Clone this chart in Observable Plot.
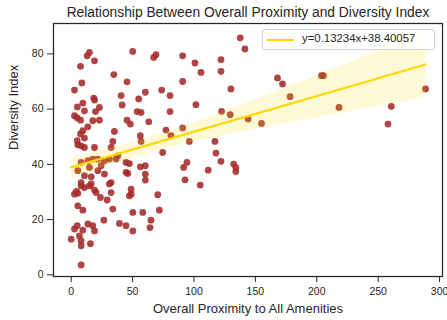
<!DOCTYPE html>
<html>
<head>
<meta charset="utf-8">
<script src="https://cdn.jsdelivr.net/npm/d3@7"></script>
<script src="https://cdn.jsdelivr.net/npm/@observablehq/plot@0.6"></script>
<style>
  html, body { margin: 0; padding: 0; background: #fff; }
  #wrap { position: relative; width: 447px; height: 320px; font-family: "Liberation Sans", Arial, sans-serif; }
  #legend { position: absolute; left: 262px; top: 29px; width: 173px; height: 21px; box-sizing: border-box;
    border: 1px solid #d0d0d0; border-radius: 3px; background: rgba(255,255,255,0.85); }
  #legend .swatch { position: absolute; left: 4px; top: 9px; width: 27px; height: 2px; background: #FFD700; }
  #legend .lbl { position: absolute; left: 39px; top: 2px; font-size: 11.4px; color: #262626; white-space: nowrap; }
</style>
</head>
<body>
<div id="wrap"></div>
<script>
const proximity = [
  14.9, 13, 19, 50.1, 69.1, 67.2, 90.8, 7.6, 34.7, 45.5, 8.7, 2.7, 90.8, 73.7, 60.4, 40.7, 55, 80.5, 18.4, 19,
  9.5, 5, 41.5, 23, 10.8, 19.8, 53.7, 56.9, 80.5, 137.7, 141.5, 100.8, 105.7, 122, 122, 130.1, 168, 172.1, 101.6, 122.5,
  178.3, 203.8, 205.4, 218.1, 260.7, 288.6,
  2.7, 4.9, 7.6, 17.6, 23, 45.5, 48.2, 63.2, 13.6, 9.5, 7.6, 10.8, 77.2, 35.2, 81.3, 56.3, 33.9, 4.9, 5.4, 19,
  56.9, 32.5, 8.1, 10.8, 74.5, 129.5, 144.1, 155, 90.8, 96.2, 117.1, 117.9, 122, 94.3, 91.6, 111.6, 132.3, 134.1, 134.1, 92.7,
  105.1, 258,
  8.1, 13.6, 17.6, 21.7, 27.1, 31.1, 36.6, 38, 5.4, 14.9, 21.7, 44.7, 47.4, 56.3, 60.4, 60.4, 60.4, 44.7, 46.1, 10.8,
  16.3, 8.1, 16.3, 32.5, 31.1, 27.1, 24.4,
  4.3, 5.4, 2.7, 10.8, 19, 20.3, 32.5, 48.8, 48.8, 47.4, 70.5, 23.8, 29.3, 5.4, 9.5, 33.9, 50.2, 58.3, 71.8, 26.6,
  4.9, 2.7, 9.5, 13.6, 17.6, 19, 39.3, 44.7, 50.2, 65, 64.2, 0, 6.7, 8.1, 8.1, 15.7, 8.1, 8.1, 14.9
];
const diversity = [
  80.5, 79.3, 77.5, 80.9, 79.7, 78.7, 79.3, 75.5, 72.5, 69.9, 69.5, 66.9, 70, 66.9, 66.1, 64.9, 63.7, 64.9, 64, 63.3,
  62.2, 60.8, 61.5, 60.6, 59.4, 59.1, 59.1, 58.8, 59.1, 85.8, 81.8, 76.7, 73.3, 77.9, 73.7, 67.3, 71.3, 69.1, 61.6, 59.2,
  64.5, 72.1, 72.1, 60.6, 61, 67.3,
  57.6, 56.8, 56, 55.8, 56, 56, 54.6, 55.4, 53.6, 52.2, 51, 49.5, 52.4, 51.9, 50.4, 50.4, 48.3, 48.6, 47.1, 46.1,
  48.3, 46.1, 46.7, 46.1, 44.3, 58, 56.4, 54.8, 53.2, 48.3, 48.3, 44.1, 41.1, 40.7, 38.9, 37.9, 40.1, 38.9, 37.4, 34.4,
  32.5, 54.6,
  40.7, 41.3, 41.9, 41.9, 41.3, 41.9, 41.9, 43.1, 37.7, 38.9, 37.7, 40.7, 40.3, 39.1, 39.5, 36.5, 34.3, 37.1, 36.7, 35.9,
  35.5, 33.4, 32.9, 33.4, 32.9, 36.5, 39.5,
  30.2, 29.5, 29.2, 31.6, 30.7, 29.8, 29.8, 31, 29.2, 28.6, 29, 28, 27.1, 25, 23.4, 23.8, 22.6, 22.6, 23.4, 19.8,
  17.8, 16.6, 16.2, 18.4, 17.8, 15.9, 18.6, 17.8, 15.9, 19.8, 17.1, 12.9, 14.1, 12.3, 10.5, 11.3, 3.6, 32.2, 32.2
];
const xTicks = [0, 50, 100, 150, 200, 250, 300];
const yTicks = [0, 20, 40, 60, 80];
const slope = 0.13234;
const intercept = 38.40057;
const titleText = "Relationship Between Overall Proximity and Diversity Index";
const xLabel = "Overall Proximity to All Amenities";
const yLabel = "Diversity Index";

const data = proximity.map((x, i) => ({x, y: diversity[i]}));

const chart = Plot.plot({
  width: 447,
  height: 320,
  marginLeft: 53,
  marginRight: 5,
  marginTop: 23,
  marginBottom: 44,
  style: {fontFamily: '"Liberation Sans", Arial, sans-serif', fontSize: "10.5px", color: "#262626", background: "#fff"},
  x: {domain: [-14.4, 302.4], label: null},
  y: {domain: [-0.6, 91], label: null},
  marks: [
    Plot.dot(data, {x: "x", y: "y", r: 3.4, fill: "#a52a2a", fillOpacity: 0.88, stroke: null}),
    Plot.linearRegressionY(data, {x: "x", y: "y", stroke: "#FFD700", strokeWidth: 2.2, fill: "#FFD700", fillOpacity: 0.16}),
    Plot.frame({stroke: "#262626", strokeWidth: 1.25}),
    Plot.axisX({ticks: xTicks, tickSize: 6, tickPadding: 5, fontSize: 10.5, stroke: "#262626", label: null}),
    Plot.axisY({ticks: yTicks, tickSize: 6, tickPadding: 4, fontSize: 10.5, stroke: "#262626", label: null}),
    Plot.text([xLabel], {text: d => d, frameAnchor: "bottom", lineAnchor: "middle", dy: 32, fontSize: 13, fill: "#262626"}),
    Plot.text([yLabel], {text: d => d, frameAnchor: "left", lineAnchor: "middle", dx: -40, rotate: -90, fontSize: 13, fill: "#262626"}),
    Plot.text([titleText], {text: d => d, frameAnchor: "top", lineAnchor: "middle", dy: -11, fontSize: 13.8, fill: "#262626"})
  ]
});
const wrap = document.getElementById("wrap");
wrap.appendChild(chart);
const legend = document.createElement("div");
legend.id = "legend";
legend.innerHTML = '<div class="swatch"></div><div class="lbl"></div>';
legend.querySelector(".lbl").textContent = `y=${slope.toFixed(5)}x+${intercept.toFixed(5)}`;
wrap.appendChild(legend);
</script>
</body>
</html>
